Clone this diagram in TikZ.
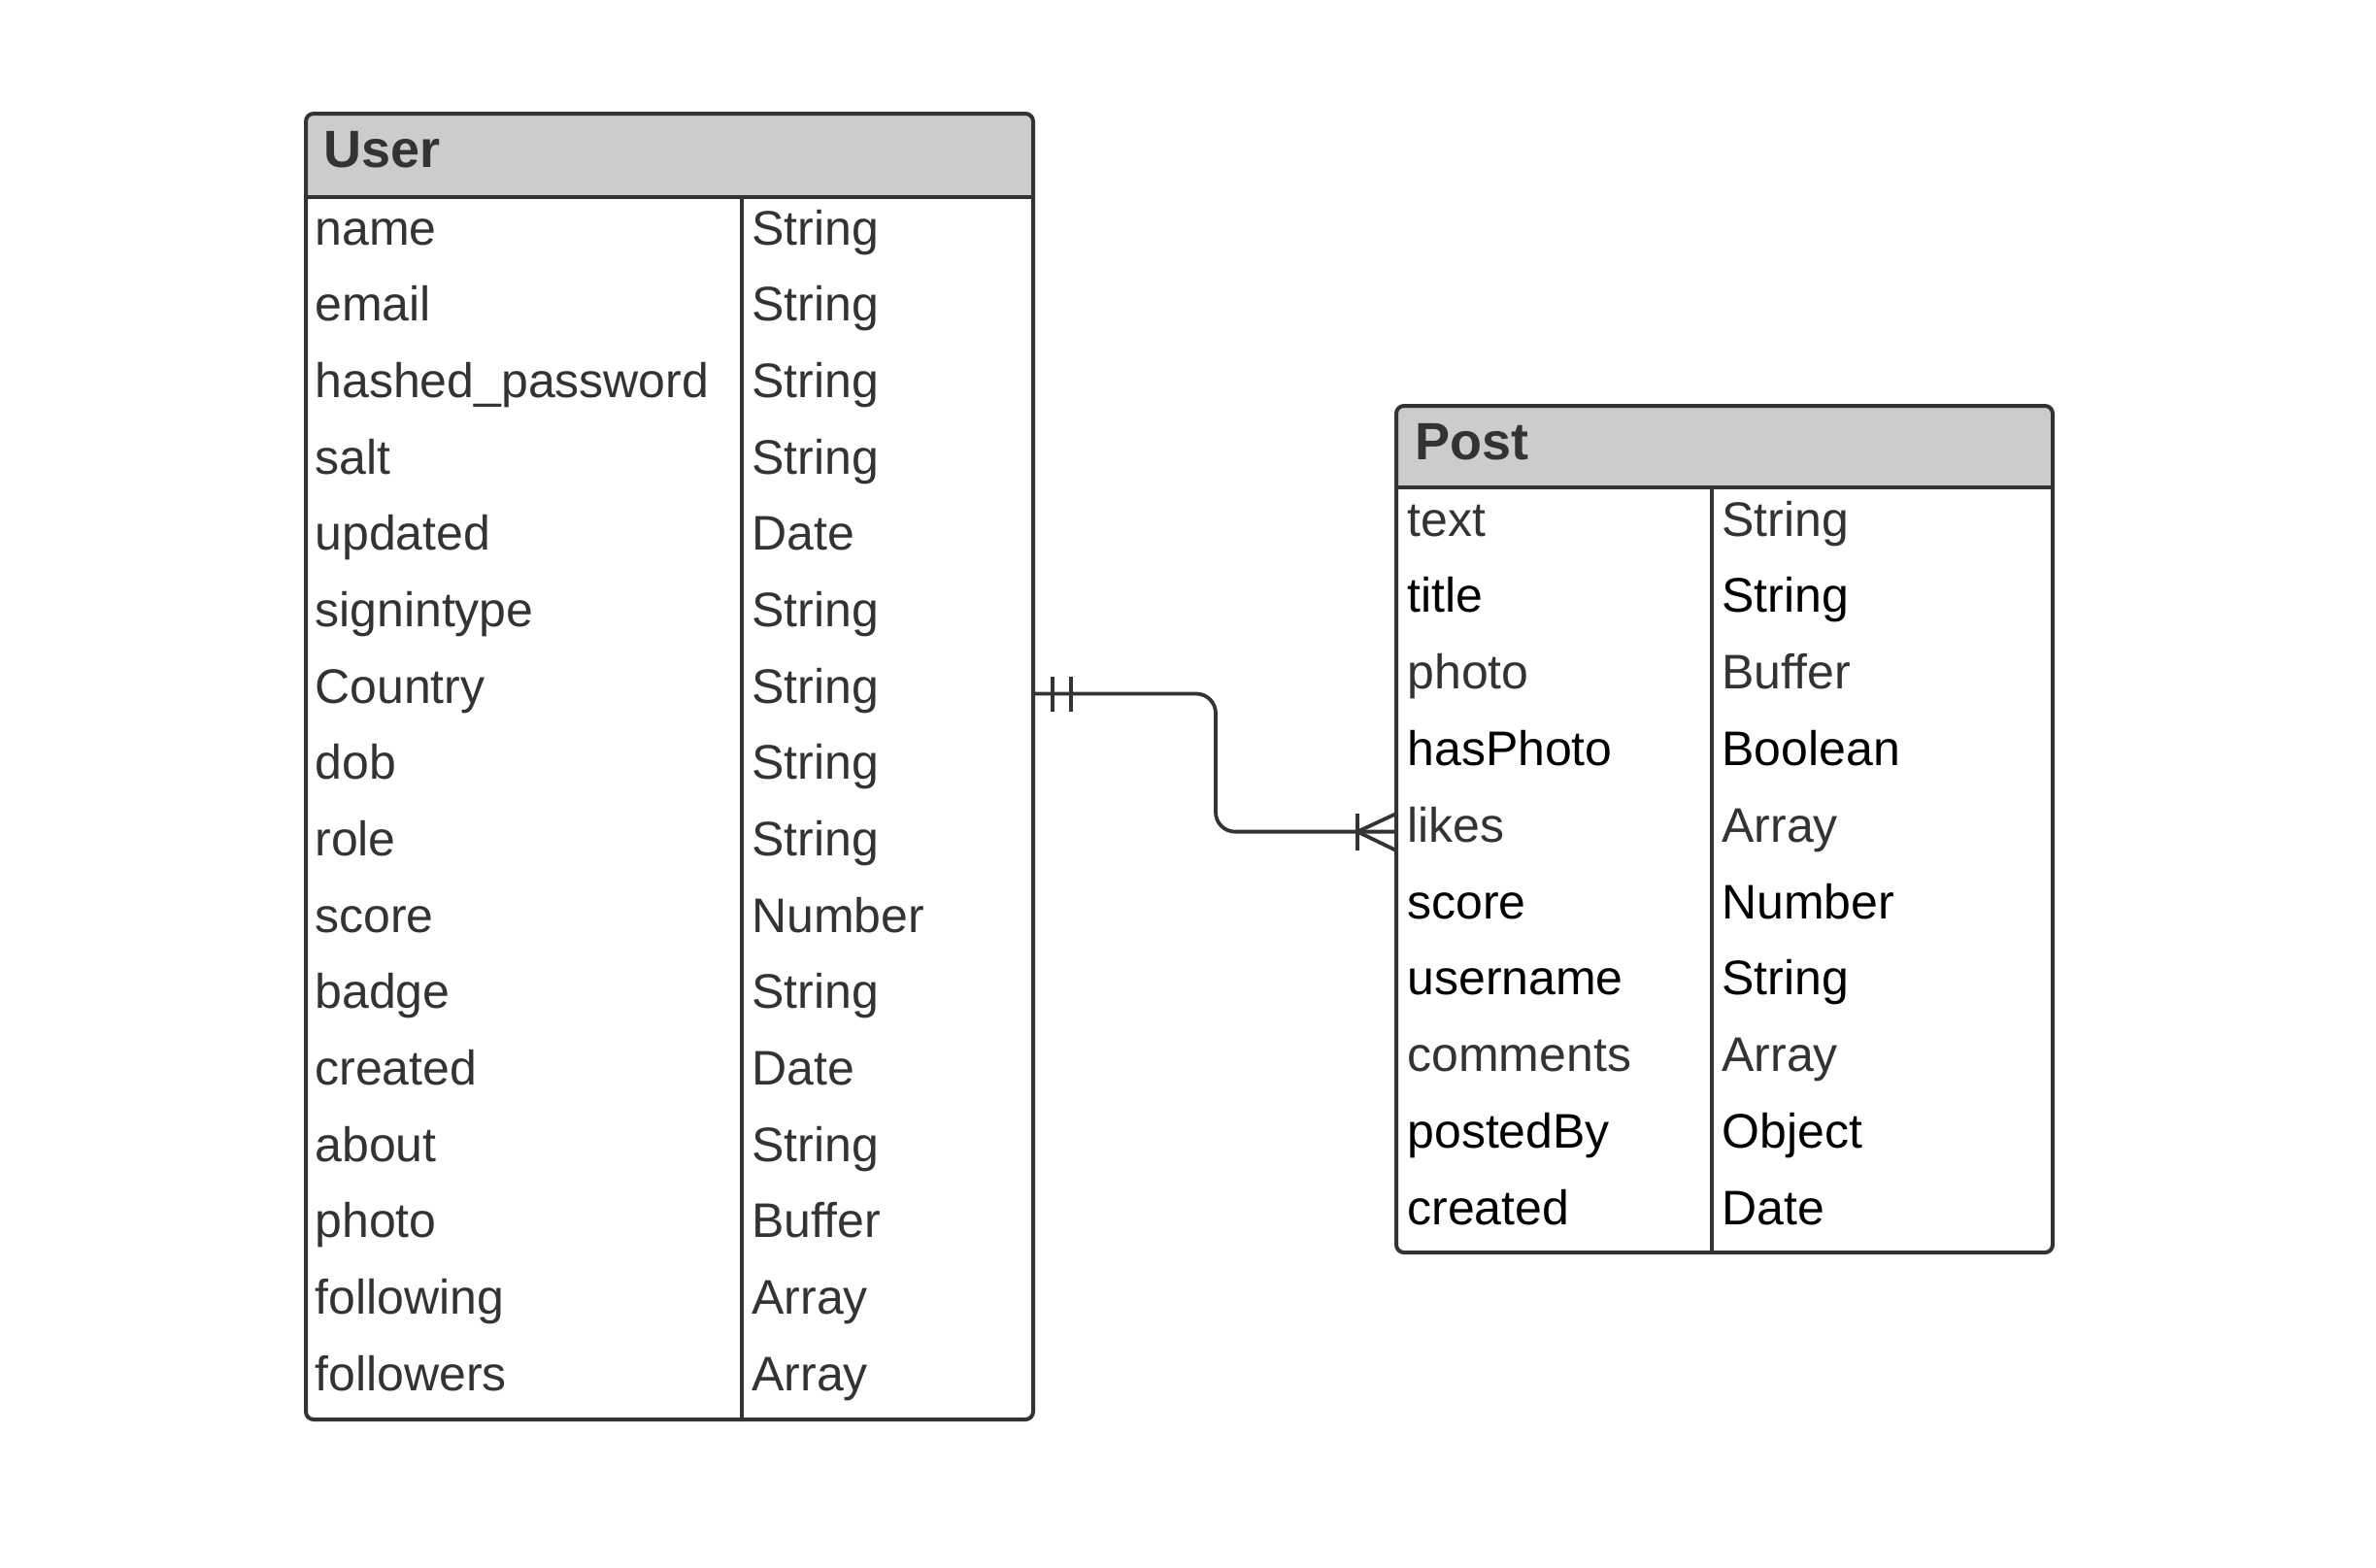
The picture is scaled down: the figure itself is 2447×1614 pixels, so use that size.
\documentclass[tikz,border=0pt]{standalone}
\usepackage{fontspec}
\setmainfont{Liberation Sans}
\definecolor{ink}{HTML}{333333}
\definecolor{hdr}{HTML}{CCCCCC}
\begin{document}
\begin{tikzpicture}[x=0.5pt,y=-0.5pt,
  border/.style={draw=ink,line width=2pt},
  sep/.style={draw=ink,line width=1.6pt},
  cell/.style={anchor=base west,inner sep=0pt,font=\fontsize{25}{30}\selectfont,text=ink},
  ttl/.style={anchor=base west,inner sep=0pt,font=\fontsize{27}{30}\selectfont\bfseries,text=ink},
  rel/.style={draw=ink,line width=1.9pt}]
\useasboundingbox (0,0) rectangle (2447,1614);

% ---------- User table ----------
\begin{scope}
  \clip[rounded corners=4pt] (315,117) rectangle (1064,1462);
  \fill[white] (315,117) rectangle (1064,1462);
  \fill[hdr] (315,117) rectangle (1064,203);
\end{scope}
\draw[border] (315,203) -- (1064,203);
\draw[sep] (764,203) -- (764,1462);
\draw[border, rounded corners=4pt] (315,117) rectangle (1064,1462);
\node[ttl] (user) at (333,172) {User};
\foreach \n/\t [count=\i] in {name/String, email/String, hashed\_password/String, salt/String, updated/Date, signintype/String, Country/String, dob/String, role/String, score/Number, badge/String, created/Date, about/String, photo/Buffer, following/Array, followers/Array} {
  \node[cell] (un\i) at (324,{252+(\i-1)*78.69}) {\n};
  \node[cell] (ut\i) at (774,{252+(\i-1)*78.69}) {\t};
}

% ---------- Post table ----------
\begin{scope}
  \clip[rounded corners=4pt] (1438,418) rectangle (2114,1290);
  \fill[white] (1438,418) rectangle (2114,1290);
  \fill[hdr] (1438,418) rectangle (2114,502);
\end{scope}
\draw[border] (1438,502) -- (2114,502);
\draw[sep] (1763,502) -- (1763,1290);
\draw[border, rounded corners=4pt] (1438,418) rectangle (2114,1290);
\node[ttl] (post) at (1457,473) {Post};
\foreach \n/\t/\c [count=\i] in {text/String/ink, title/String/black, photo/Buffer/ink, hasPhoto/Boolean/black, likes/Array/ink, score/Number/black, username/String/black, comments/Array/ink, postedBy/Object/black, created/Date/black} {
  \node[cell,text=\c] (pn\i) at (1449,{552+(\i-1)*78.8}) {\n};
  \node[cell,text=\c] (pt\i) at (1773,{552+(\i-1)*78.8}) {\t};
}

% ---------- Relationship ----------
\coordinate (ua) at (1064,714.5);
\coordinate (pb) at (1438,856.6);
\draw[rel, rounded corners=10pt] (ua) -| (1252,785) |- (pb);
% one-and-only-one marker
\draw[rel] (1084,696.5) -- (1084,732.5) (1103,696.5) -- (1103,732.5);
% one-or-many marker
\draw[rel] (1398,838) -- (1398,876);
\draw[rel] (1438,838) -- (1398,856.6) -- (1438,876);
\end{tikzpicture}
\end{document}
